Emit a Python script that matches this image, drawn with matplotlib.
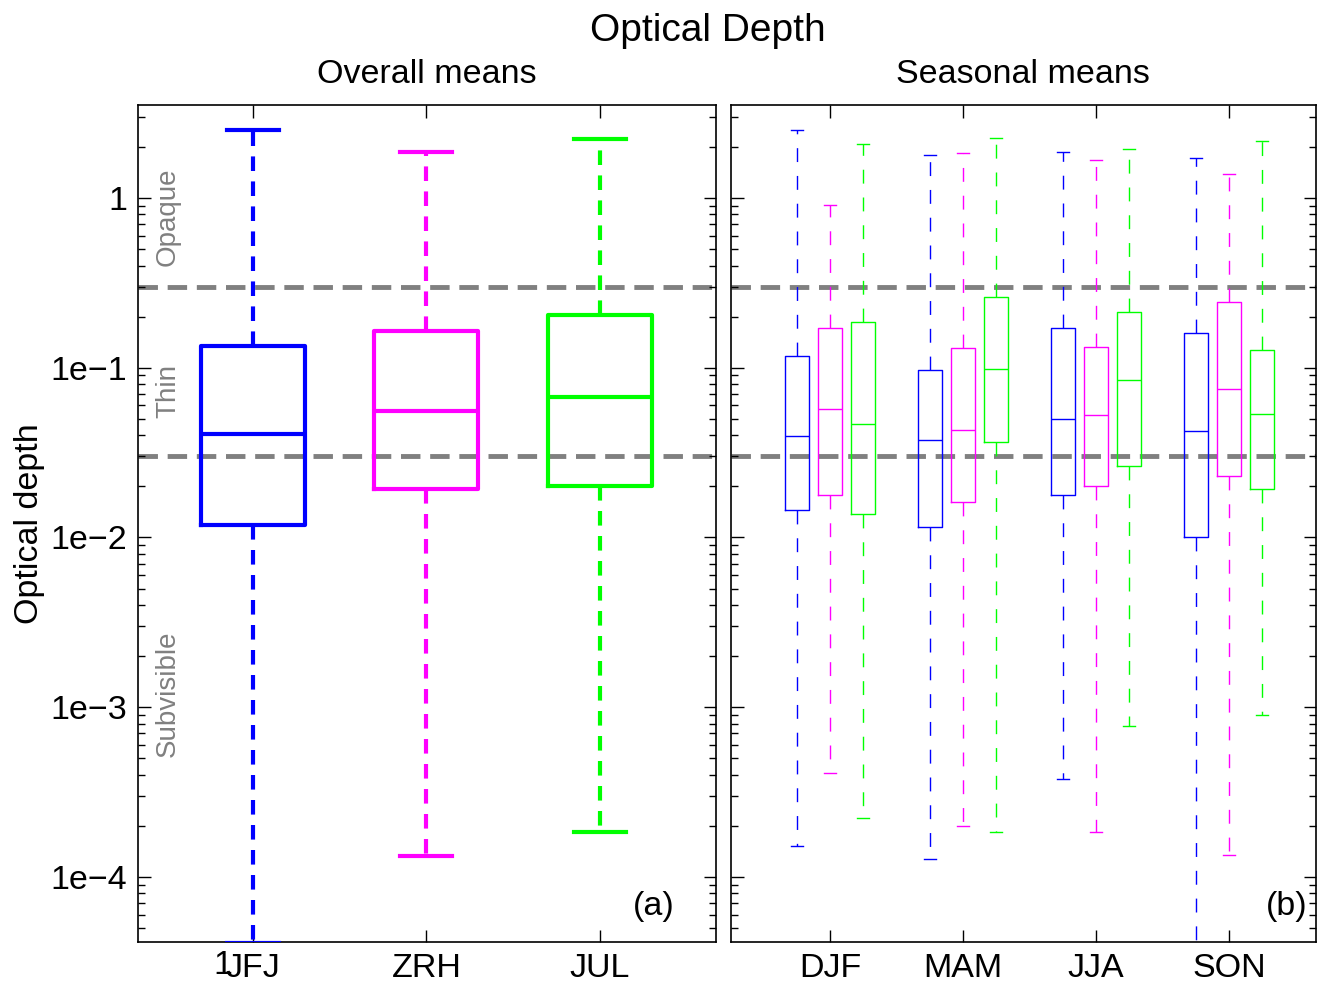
import matplotlib
matplotlib.use("Agg")
import matplotlib.pyplot as plt
from matplotlib.ticker import FixedLocator, LogLocator, NullFormatter

plt.rcParams['font.family'] = ['Liberation Sans', 'DejaVu Sans']

# ── data ────────────────────────────────────────────────────────────────────
stations = ["JFJ", "ZRH", "JUL"]
colors   = ["#0000ff", "#ff00ff", "#00ff00"]

# overall: whisker low, q1, median, q3, whisker high
ov_lo  = [4.1e-5, 1.33e-4, 1.84e-4]
ov_q1  = [0.0118, 0.0192, 0.0200]
ov_med = [0.0409, 0.0558, 0.0675]
ov_q3  = [0.135, 0.165, 0.205]
ov_hi  = [2.51, 1.87, 2.22]

seasons = ["DJF", "MAM", "JJA", "SON"]
# seasonal, one row per station, one column per season
se_lo  = [[1.52e-4, 1.28e-4, 3.77e-4, 4.1e-5],
          [4.09e-4, 2.00e-4, 1.84e-4, 1.35e-4],
          [2.22e-4, 1.84e-4, 7.73e-4, 8.97e-4]]
se_q1  = [[0.0146, 0.0115, 0.0179, 0.0100],
          [0.0179, 0.0161, 0.0200, 0.0229],
          [0.0137, 0.0367, 0.0265, 0.0192]]
se_med = [[0.0398, 0.0377, 0.0501, 0.0426],
          [0.0574, 0.0432, 0.0529, 0.0752],
          [0.0469, 0.0987, 0.0851, 0.0536]]
se_q3  = [[0.118, 0.0973, 0.172, 0.161],
          [0.172, 0.131, 0.133, 0.245],
          [0.187, 0.262, 0.214, 0.128]]
se_hi  = [[2.51, 1.79, 1.87, 1.72],
          [0.91, 1.84, 1.67, 1.38],
          [2.08, 2.25, 1.94, 2.16]]

thresholds = [0.03, 0.3]
ytick_vals   = [1e-4, 1e-3, 1e-2, 1e-1, 1]
ytick_labels = ["1e\u22124", "1e\u22123", "1e\u22122", "1e\u22121", "1"]

# ── figure ──────────────────────────────────────────────────────────────────
fig = plt.figure(figsize=(13.3, 9.85), dpi=100)
ax_a = fig.add_axes([0.1038, 0.0437, 0.4346, 0.8497])
ax_b = fig.add_axes([0.5496, 0.0437, 0.4398, 0.8497])

YLIM = (4.14e-5, 3.53)
FS = 24.5


def style_axes(ax, show_labels):
    ax.set_yscale('log')
    ax.set_ylim(*YLIM)
    ax.yaxis.set_major_locator(FixedLocator(ytick_vals))
    ax.yaxis.set_minor_locator(LogLocator(base=10, subs=range(2, 10), numticks=20))
    ax.yaxis.set_minor_formatter(NullFormatter())
    if show_labels:
        ax.set_yticklabels(ytick_labels)
    else:
        ax.set_yticklabels([])
    ax.tick_params(which='both', direction='in', top=True, right=True,
                   labelsize=FS, width=1, colors='black')
    ax.tick_params(which='major', length=9, pad=8)
    ax.tick_params(which='minor', length=5)
    for sp in ax.spines.values():
        sp.set_linewidth(1.2)
    for t in thresholds:
        ax.axhline(t, color='#808080', linestyle=(0, (4, 2)), linewidth=3.5, zorder=1)


# ── (a) overall means ───────────────────────────────────────────────────────
pos_a = [1, 2, 3]
for i, c in enumerate(colors):
    st = [dict(whislo=ov_lo[i], q1=ov_q1[i], med=ov_med[i], q3=ov_q3[i],
               whishi=ov_hi[i], fliers=[])]
    ax_a.bxp(st, positions=[pos_a[i]], widths=0.6, capwidths=0.3,
             showfliers=False, manage_ticks=False,
             boxprops=dict(color=c, linewidth=3),
             medianprops=dict(color=c, linewidth=3),
             whiskerprops=dict(color=c, linewidth=3, linestyle=(0, (3.5, 2.5))),
             capprops=dict(color=c, linewidth=3), zorder=3)
style_axes(ax_a, True)
ax_a.set_xlim(0.337, 3.67)
ax_a.set_xticks(pos_a)
ax_a.set_xticklabels(stations)
ax_a.set_ylabel("Optical depth", fontsize=FS, labelpad=4)
ax_a.set_title("Overall means", fontsize=FS, pad=16)
ax_a.text(0.929, 0.024, "(a)", transform=ax_a.transAxes, fontsize=FS,
          ha='right', va='bottom')

# cloud class labels
for txt, yv in [("Opaque", 0.78), ("Thin", 0.073), ("Subvisible", 1.2e-3)]:
    ax_a.text(0.052, yv, txt, transform=ax_a.get_yaxis_transform(),
              rotation=90, color='#808080', fontsize=20, ha='center', va='center')

# ── (b) seasonal means ──────────────────────────────────────────────────────
pos_b = [1, 2, 3, 4]
offsets = [-0.25, 0.0, 0.25]
for i, c in enumerate(colors):
    st = [dict(whislo=se_lo[i][j], q1=se_q1[i][j], med=se_med[i][j],
               q3=se_q3[i][j], whishi=se_hi[i][j], fliers=[])
          for j in range(len(seasons))]
    ax_b.bxp(st, positions=[p + offsets[i] for p in pos_b], widths=0.18,
             capwidths=0.09, showfliers=False, manage_ticks=False,
             boxprops=dict(color=c, linewidth=1),
             medianprops=dict(color=c, linewidth=1),
             whiskerprops=dict(color=c, linewidth=1, linestyle=(0, (10, 10))),
             capprops=dict(color=c, linewidth=1), zorder=3)
style_axes(ax_b, False)
ax_b.set_xlim(0.256, 4.654)
ax_b.set_xticks(pos_b)
ax_b.set_xticklabels(seasons)
ax_b.set_title("Seasonal means", fontsize=FS, pad=16)
ax_b.text(0.986, 0.024, "(b)", transform=ax_b.transAxes, fontsize=FS,
          ha='right', va='bottom')

fig.text(0.532, 0.9685, "Optical Depth", fontsize=28, ha='center', va='center')
# stray glyph left of the JFJ label
fig.text(0.1675, 0.0195, "1", fontsize=FS, ha='center', va='center')

fig.savefig("out.png", dpi=100)
